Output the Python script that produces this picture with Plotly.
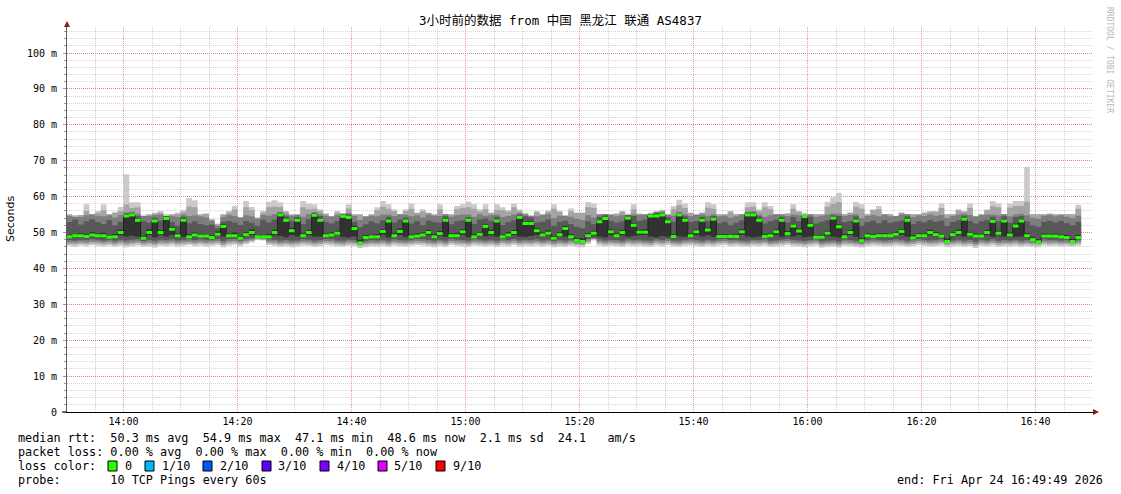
import numpy as np
import pandas as pd
import plotly.graph_objects as go

# ---------------- data ----------------
title_text = "3小时前的数据 from 中国 黑龙江 联通 AS4837"
first_bin = "2026-04-24 13:50:00"
view_start = "2026-04-24 13:50:05"
view_end = "2026-04-24 16:50:05"

median = [
    48.8, 49.1, 49.1, 48.9, 49.3, 49.1, 49.1, 48.7, 48.8, 50.0,
    54.6, 54.9, 53.4, 48.4, 50.0, 53.2, 50.0, 53.9, 50.9, 49.1,
    53.4, 48.8, 49.3, 49.0, 49.0, 48.6, 49.5, 51.7, 49.1, 49.1,
    48.4, 49.4, 50.0, 48.8, 48.8, 48.8, 50.0, 54.9, 53.4, 50.5,
    53.4, 49.1, 50.0, 54.8, 53.4, 49.1, 49.3, 49.8, 54.5, 54.2,
    51.1, 47.1, 48.6, 48.8, 48.8, 50.3, 53.2, 49.1, 50.3, 53.2,
    48.8, 49.0, 49.3, 50.0, 48.8, 49.7, 53.4, 49.1, 49.1, 50.2,
    53.4, 48.8, 49.5, 51.7, 50.0, 53.2, 48.8, 49.3, 50.0, 54.2,
    52.5, 52.5, 50.5, 49.3, 49.8, 48.4, 49.4, 51.1, 48.8, 47.8,
    47.5, 49.1, 49.8, 53.0, 53.9, 50.2, 49.1, 50.0, 54.0, 52.0,
    50.1, 50.1, 54.6, 54.6, 54.9, 53.0, 48.9, 54.9, 53.4, 49.1,
    50.2, 53.4, 50.7, 53.7, 48.9, 48.9, 48.9, 48.9, 50.2, 54.9,
    54.9, 53.4, 48.9, 49.1, 50.2, 53.4, 49.7, 51.8, 50.4, 54.4,
    52.0, 48.7, 48.7, 49.8, 54.0, 51.6, 48.8, 50.0, 53.2, 47.7,
    49.1, 48.9, 49.1, 49.1, 49.1, 49.5, 50.3, 53.4, 48.5, 49.1,
    49.1, 50.0, 49.4, 49.0, 47.5, 49.4, 50.0, 53.7, 49.5, 49.0,
    49.0, 50.0, 53.1, 49.8, 53.2, 49.3, 51.8, 53.2, 49.1, 48.0,
    47.4, 49.0, 49.0, 49.0, 48.8, 48.6, 47.5, 48.6]

ping_1 = [
    46.3, 46.0, 46.4, 46.2, 46.5, 46.3, 46.1, 46.4, 46.0, 46.3,
    45.9, 46.2, 46.4, 46.0, 46.1, 45.8, 46.3, 46.2, 46.4, 46.0,
    46.3, 46.5, 46.2, 46.4, 46.1, 46.3, 46.5, 45.9, 46.4, 46.6,
    46.2, 46.7, 47.2, 47.9, 47.8, 46.5, 46.3, 46.0, 46.2, 45.9,
    46.1, 46.4, 46.3, 46.0, 46.2, 46.5, 46.4, 46.1, 46.0, 46.3,
    46.2, 45.7, 45.9, 46.2, 46.1, 46.3, 46.0, 46.4, 46.2, 46.1,
    46.3, 46.5, 46.4, 46.2, 45.9, 46.3, 46.0, 46.5, 46.3, 46.2,
    46.0, 46.4, 46.3, 46.1, 46.3, 46.0, 46.4, 46.2, 46.5, 46.1,
    46.3, 46.2, 46.4, 46.1, 46.3, 45.9, 46.2, 46.0, 46.3, 46.0,
    45.9, 46.8, 47.8, 46.4, 46.1, 46.3, 46.2, 46.0, 46.4, 46.2,
    46.3, 46.1, 46.0, 46.4, 46.2, 46.5, 46.1, 46.0, 46.3, 46.4,
    46.2, 46.0, 46.3, 46.1, 46.4, 46.5, 46.2, 46.3, 46.1, 46.0,
    46.3, 46.2, 46.4, 46.0, 46.1, 46.3, 46.5, 46.2, 46.1, 45.9,
    46.2, 46.4, 45.8, 46.0, 46.1, 45.8, 46.3, 46.2, 46.0, 45.8,
    46.2, 46.4, 46.3, 46.1, 46.2, 46.4, 46.3, 46.0, 46.2, 46.5,
    46.3, 46.1, 46.2, 46.4, 45.9, 46.1, 46.3, 46.0, 46.2, 45.7,
    46.3, 46.1, 46.4, 46.0, 46.2, 46.1, 46.3, 46.0, 46.2, 46.0,
    45.9, 46.4, 46.2, 46.3, 46.1, 46.2, 46.0, 46.3]

ping_2 = [
    46.8, 46.7, 46.9, 46.8, 47.0, 46.9, 46.7, 46.9, 46.6, 46.9,
    46.5, 46.8, 47.0, 46.6, 46.8, 46.5, 46.9, 46.8, 47.0, 46.7,
    46.9, 47.0, 46.8, 47.0, 46.8, 46.9, 47.1, 46.5, 47.0, 47.1,
    46.8, 47.2, 47.6, 48.1, 48.0, 47.0, 46.9, 46.6, 46.8, 46.6,
    46.7, 47.0, 46.9, 46.6, 46.8, 47.1, 47.0, 46.7, 46.6, 46.9,
    46.8, 46.3, 46.6, 46.8, 46.7, 46.9, 46.6, 47.0, 46.8, 46.7,
    46.9, 47.1, 47.0, 46.8, 46.6, 46.9, 46.6, 47.1, 46.9, 46.8,
    46.6, 47.0, 46.9, 46.7, 46.9, 46.6, 47.0, 46.8, 47.1, 46.7,
    46.9, 46.8, 47.0, 46.7, 46.9, 46.5, 46.8, 46.6, 46.9, 46.6,
    46.5, 47.3, 48.1, 47.0, 46.7, 46.9, 46.8, 46.6, 47.0, 46.8,
    46.9, 46.7, 46.6, 47.0, 46.8, 47.1, 46.7, 46.6, 46.9, 47.0,
    46.8, 46.6, 46.9, 46.7, 47.0, 47.1, 46.8, 46.9, 46.7, 46.6,
    46.9, 46.8, 47.0, 46.6, 46.7, 46.9, 47.1, 46.8, 46.7, 46.5,
    46.8, 47.0, 46.4, 46.6, 46.7, 46.4, 46.9, 46.8, 46.6, 46.4,
    46.8, 47.0, 46.9, 46.7, 46.8, 47.0, 46.9, 46.6, 46.8, 47.1,
    46.9, 46.7, 46.8, 47.0, 46.5, 46.7, 46.9, 46.6, 46.8, 46.3,
    46.9, 46.7, 47.0, 46.6, 46.8, 46.7, 46.9, 46.6, 46.8, 46.6,
    46.5, 47.0, 46.8, 46.9, 46.7, 46.8, 46.6, 46.9]

ping_3 = [
    47.3, 47.2, 47.4, 47.3, 47.5, 47.4, 47.2, 47.4, 47.1, 47.4,
    47.1, 47.3, 47.5, 47.1, 47.3, 47.0, 47.4, 47.3, 47.5, 47.2,
    47.4, 47.5, 47.3, 47.5, 47.3, 47.4, 47.6, 47.0, 47.5, 47.6,
    47.3, 47.7, 48.0, 48.3, 48.2, 47.5, 47.4, 47.1, 47.3, 47.1,
    47.2, 47.5, 47.4, 47.1, 47.3, 47.6, 47.5, 47.2, 47.1, 47.4,
    47.3, 46.7, 47.1, 47.3, 47.2, 47.4, 47.1, 47.5, 47.3, 47.2,
    47.4, 47.6, 47.5, 47.3, 47.1, 47.4, 47.1, 47.6, 47.4, 47.3,
    47.1, 47.5, 47.4, 47.2, 47.4, 47.1, 47.5, 47.3, 47.6, 47.2,
    47.4, 47.3, 47.5, 47.2, 47.4, 47.0, 47.3, 47.1, 47.4, 47.1,
    46.9, 47.8, 48.3, 47.5, 47.2, 47.4, 47.3, 47.1, 47.5, 47.3,
    47.4, 47.2, 47.1, 47.5, 47.3, 47.6, 47.2, 47.1, 47.4, 47.5,
    47.3, 47.1, 47.4, 47.2, 47.5, 47.6, 47.3, 47.4, 47.2, 47.1,
    47.4, 47.3, 47.5, 47.1, 47.2, 47.4, 47.6, 47.3, 47.2, 47.0,
    47.3, 47.5, 46.9, 47.1, 47.2, 46.9, 47.4, 47.3, 47.1, 46.9,
    47.3, 47.5, 47.4, 47.2, 47.3, 47.5, 47.4, 47.1, 47.3, 47.6,
    47.4, 47.2, 47.3, 47.5, 47.0, 47.2, 47.4, 47.1, 47.3, 46.8,
    47.4, 47.2, 47.5, 47.1, 47.3, 47.2, 47.4, 47.1, 47.3, 47.1,
    47.0, 47.5, 47.3, 47.4, 47.2, 47.3, 47.1, 47.4]

ping_4 = [
    47.9, 47.8, 48.0, 47.9, 48.1, 48.0, 47.8, 48.0, 47.7, 48.0,
    47.8, 48.0, 48.1, 47.6, 47.9, 47.7, 48.0, 47.9, 48.1, 47.8,
    48.0, 48.1, 47.9, 48.1, 47.9, 48.0, 48.2, 47.6, 48.1, 48.2,
    47.8, 48.2, 48.4, 48.5, 48.4, 48.1, 48.0, 47.7, 47.9, 47.7,
    47.8, 48.1, 48.0, 47.7, 47.9, 48.2, 48.1, 47.8, 47.7, 48.0,
    47.9, 46.9, 47.6, 47.9, 47.8, 48.0, 47.7, 48.1, 47.9, 47.8,
    48.0, 48.2, 48.1, 47.9, 47.7, 48.0, 47.7, 48.2, 48.0, 47.9,
    47.7, 48.1, 48.0, 47.8, 48.0, 47.7, 48.1, 47.9, 48.2, 47.8,
    48.0, 47.9, 48.1, 47.8, 48.0, 47.6, 47.9, 47.7, 48.0, 47.4,
    47.2, 48.2, 48.5, 48.1, 47.8, 48.0, 47.9, 47.7, 48.1, 47.9,
    48.0, 47.8, 47.7, 48.1, 47.9, 48.2, 47.8, 47.7, 48.0, 48.1,
    47.9, 47.7, 48.0, 47.8, 48.1, 48.2, 47.9, 48.0, 47.8, 47.7,
    48.0, 47.9, 48.1, 47.7, 47.8, 48.0, 48.2, 47.9, 47.8, 47.6,
    47.9, 48.1, 47.5, 47.7, 47.8, 47.5, 48.0, 47.9, 47.7, 47.3,
    47.9, 48.1, 48.0, 47.8, 47.9, 48.1, 48.0, 47.7, 47.9, 48.2,
    48.0, 47.8, 47.9, 48.1, 47.2, 47.8, 48.0, 47.7, 47.9, 47.4,
    48.0, 47.8, 48.1, 47.7, 47.9, 47.8, 48.0, 47.7, 47.9, 47.6,
    47.1, 48.1, 47.9, 48.0, 47.8, 47.9, 47.2, 48.0]

ping_5 = [
    48.5, 48.7, 48.8, 48.6, 48.9, 48.8, 48.7, 48.4, 48.4, 49.2,
    48.9, 49.1, 48.8, 48.1, 49.3, 48.7, 49.4, 48.9, 49.3, 48.7,
    48.8, 48.5, 48.9, 48.7, 48.6, 48.3, 49.0, 48.9, 48.8, 48.7,
    48.1, 49.0, 49.3, 48.6, 48.6, 48.5, 49.2, 49.0, 48.7, 49.2,
    48.9, 48.7, 49.3, 48.8, 48.9, 48.8, 48.9, 49.3, 48.8, 48.6,
    48.9, 47.0, 48.2, 48.5, 48.4, 49.4, 48.7, 48.8, 49.3, 48.8,
    48.5, 48.7, 48.9, 49.3, 48.4, 49.1, 48.8, 48.8, 48.7, 49.4,
    48.7, 48.5, 49.0, 48.9, 49.2, 48.8, 48.5, 48.9, 49.3, 48.9,
    48.8, 49.0, 49.3, 48.9, 49.2, 48.0, 49.0, 48.8, 48.5, 47.5,
    47.3, 48.7, 49.2, 48.9, 48.7, 49.3, 48.8, 49.2, 48.8, 49.0,
    49.3, 49.4, 48.9, 48.7, 49.0, 48.8, 48.6, 48.9, 48.8, 48.8,
    49.3, 48.9, 49.2, 48.8, 48.6, 48.5, 48.6, 48.5, 49.4, 48.9,
    48.7, 48.9, 48.6, 48.7, 49.3, 48.8, 49.2, 48.9, 49.3, 48.7,
    48.9, 48.4, 48.3, 49.1, 48.8, 48.6, 48.5, 49.3, 48.8, 47.4,
    48.7, 48.6, 48.8, 48.7, 48.8, 49.0, 49.4, 48.8, 48.2, 48.7,
    48.8, 49.3, 48.9, 48.7, 47.3, 48.9, 49.2, 48.8, 49.0, 48.6,
    48.7, 49.3, 48.8, 49.2, 48.9, 48.9, 48.8, 48.9, 48.7, 47.7,
    47.2, 48.7, 48.6, 48.7, 48.5, 48.3, 47.3, 48.3]

ping_6 = [
    49.4, 49.6, 49.8, 49.5, 50.1, 49.7, 49.9, 49.2, 49.6, 50.8,
    55.0, 55.2, 53.9, 49.0, 50.9, 53.6, 50.7, 54.3, 51.6, 49.8,
    53.9, 49.5, 50.0, 49.6, 49.5, 49.2, 50.3, 52.4, 49.7, 50.0,
    49.1, 50.1, 50.9, 49.3, 49.4, 49.6, 50.8, 55.3, 53.8, 51.3,
    53.9, 49.8, 50.6, 55.2, 53.9, 49.7, 50.0, 50.5, 54.9, 54.6,
    51.9, 48.0, 49.3, 49.4, 49.6, 51.0, 53.7, 49.8, 51.1, 53.6,
    49.4, 49.7, 50.0, 50.7, 49.5, 50.4, 53.9, 49.7, 49.9, 50.9,
    53.8, 49.5, 50.2, 52.3, 50.8, 53.7, 49.4, 50.1, 50.7, 54.6,
    53.0, 53.1, 51.2, 50.0, 50.6, 49.1, 50.1, 51.8, 49.5, 48.5,
    48.3, 49.8, 50.5, 53.5, 54.3, 50.9, 49.8, 50.7, 54.4, 52.6,
    50.8, 50.9, 55.0, 55.0, 55.3, 53.5, 49.6, 55.2, 53.9, 49.8,
    50.9, 53.9, 51.4, 54.1, 49.5, 49.6, 49.4, 49.6, 51.0, 55.2,
    55.3, 53.8, 49.6, 49.7, 50.9, 53.9, 50.4, 52.4, 51.1, 54.8,
    52.6, 49.3, 49.4, 50.5, 54.4, 52.3, 49.5, 50.7, 53.7, 48.4,
    49.8, 49.5, 49.7, 49.8, 49.6, 50.2, 51.0, 53.9, 49.2, 49.8,
    49.7, 50.8, 50.1, 49.6, 48.3, 50.0, 50.8, 54.1, 50.2, 49.7,
    49.6, 50.7, 53.6, 50.5, 53.7, 50.0, 52.5, 53.7, 49.8, 48.7,
    48.1, 49.7, 49.6, 49.7, 49.4, 49.3, 48.2, 49.3]

ping_7 = [
    52.9, 53.6, 52.2, 53.1, 53.7, 52.9, 52.4, 53.4, 52.0, 53.0,
    55.3, 55.5, 54.6, 53.1, 52.7, 54.1, 53.3, 54.7, 52.9, 51.9,
    54.4, 52.6, 53.1, 52.4, 52.0, 52.2, 51.2, 53.0, 53.2, 52.8,
    52.1, 53.2, 52.7, 51.9, 53.5, 52.8, 53.6, 55.5, 54.5, 53.1,
    54.3, 52.3, 53.7, 55.4, 54.6, 52.9, 52.5, 53.2, 55.2, 55.0,
    53.0, 51.5, 52.3, 53.1, 52.6, 53.4, 54.4, 52.8, 53.6, 54.2,
    52.5, 53.2, 52.0, 53.3, 52.9, 52.7, 54.5, 52.3, 53.1, 53.4,
    54.3, 52.4, 53.6, 53.9, 53.2, 54.4, 52.1, 52.9, 53.4, 55.0,
    54.5, 54.2, 52.8, 53.0, 53.6, 51.9, 52.9, 53.3, 52.4, 51.6,
    51.2, 53.1, 52.3, 54.4, 54.8, 53.3, 52.7, 53.1, 54.9, 54.6,
    53.3, 53.6, 55.3, 55.4, 55.5, 54.3, 53.0, 55.5, 54.5, 52.9,
    53.2, 54.4, 53.1, 54.6, 52.6, 53.0, 52.0, 52.7, 53.4, 55.5,
    55.6, 54.6, 52.5, 53.1, 53.6, 54.4, 52.8, 54.3, 53.1, 55.1,
    54.4, 52.5, 53.0, 53.4, 54.8, 54.6, 52.9, 53.2, 54.5, 51.9,
    52.9, 53.3, 52.6, 53.4, 52.7, 53.0, 53.3, 54.5, 52.3, 53.1,
    52.8, 53.5, 53.0, 53.3, 51.8, 52.9, 53.4, 54.7, 53.2, 52.5,
    53.1, 53.4, 54.4, 53.1, 54.5, 52.7, 54.3, 54.6, 53.1, 52.0,
    51.5, 53.0, 53.3, 52.8, 53.2, 52.6, 52.0, 53.0]

ping_8 = [
    54.6, 54.9, 54.3, 54.8, 55.0, 54.7, 54.5, 54.8, 54.2, 54.9,
    55.6, 55.8, 55.2, 54.8, 54.6, 54.9, 55.0, 55.1, 54.7, 54.3,
    55.0, 54.6, 54.8, 54.5, 54.2, 53.3, 51.9, 54.3, 54.9, 54.6,
    54.2, 54.8, 54.5, 53.8, 54.9, 54.7, 55.1, 55.8, 55.0, 54.7,
    54.9, 54.4, 55.1, 55.7, 55.1, 54.7, 54.4, 54.9, 55.5, 55.4,
    54.6, 53.5, 54.4, 54.7, 54.5, 55.0, 55.0, 54.6, 55.1, 54.9,
    54.5, 54.8, 54.2, 55.0, 54.7, 54.6, 55.1, 54.4, 54.8, 55.0,
    55.0, 54.4, 55.1, 54.7, 54.9, 55.0, 54.3, 54.6, 55.0, 55.4,
    55.0, 54.9, 54.5, 54.8, 55.1, 54.0, 54.7, 54.9, 54.4, 53.8,
    53.5, 54.8, 54.2, 55.0, 55.2, 54.9, 54.5, 54.8, 55.3, 55.1,
    54.9, 55.0, 55.6, 55.7, 55.8, 54.9, 54.7, 55.8, 55.1, 54.6,
    54.9, 55.0, 54.7, 55.1, 54.5, 54.7, 54.1, 54.5, 55.0, 55.8,
    55.9, 55.1, 54.4, 54.8, 55.1, 55.0, 54.6, 55.0, 54.8, 55.5,
    55.0, 54.4, 54.7, 55.0, 55.3, 55.2, 54.6, 54.9, 55.1, 54.0,
    54.6, 54.9, 54.5, 55.0, 54.5, 54.7, 55.0, 55.1, 54.3, 54.8,
    54.6, 55.0, 54.7, 54.9, 54.0, 54.6, 55.0, 55.2, 54.9, 54.4,
    54.8, 55.0, 55.0, 54.8, 55.1, 54.5, 55.0, 55.2, 54.8, 54.1,
    53.8, 54.7, 54.9, 54.5, 54.8, 54.4, 54.0, 54.7]

ping_9 = [
    55.0, 54.4, 54.9, 56.0, 55.1, 55.5, 56.2, 55.1, 55.4, 56.0,
    57.8, 56.8, 57.0, 54.6, 55.0, 55.3, 55.5, 54.6, 55.0, 55.2,
    55.8, 57.2, 57.0, 55.0, 55.2, 53.6, 52.3, 55.0, 55.6, 56.4,
    54.2, 57.0, 56.2, 54.1, 55.6, 57.0, 57.2, 57.1, 55.8, 55.0,
    55.1, 57.0, 56.5, 56.6, 56.0, 55.2, 54.6, 55.6, 55.1, 56.7,
    55.0, 55.0, 54.6, 55.0, 56.2, 57.2, 56.6, 56.0, 55.1, 56.0,
    56.6, 55.4, 55.9, 55.4, 55.0, 56.5, 55.1, 55.0, 56.5, 56.8,
    57.0, 56.6, 55.9, 56.5, 55.4, 56.3, 56.2, 55.8, 57.0, 56.0,
    55.3, 54.6, 55.7, 55.1, 55.8, 56.6, 55.8, 54.6, 55.9, 55.4,
    55.4, 57.0, 56.8, 55.1, 55.1, 55.1, 55.2, 55.8, 54.9, 56.5,
    55.2, 55.1, 55.1, 55.8, 56.1, 55.1, 56.5, 57.6, 56.8, 55.4,
    55.1, 55.5, 56.9, 56.6, 55.1, 55.1, 55.8, 55.1, 55.1, 57.0,
    57.2, 56.0, 57.0, 56.5, 55.1, 55.1, 55.3, 56.6, 55.8, 54.6,
    55.1, 55.1, 55.1, 57.2, 58.0, 58.5, 55.1, 55.5, 57.2, 56.6,
    55.1, 56.2, 56.5, 55.1, 55.1, 54.6, 55.5, 55.1, 55.1, 55.1,
    55.5, 55.8, 55.8, 56.8, 55.1, 55.1, 56.2, 55.8, 56.8, 54.6,
    55.1, 56.2, 57.3, 57.0, 55.1, 56.9, 57.4, 57.4, 58.6, 55.1,
    55.1, 55.1, 55.2, 55.1, 55.1, 55.1, 55.1, 56.6]

ping_10 = [
    55.1, 54.4, 54.9, 57.9, 55.1, 56.0, 57.9, 55.1, 55.8, 57.1,
    66.2, 58.4, 58.4, 54.6, 55.1, 55.6, 56.0, 54.6, 55.1, 55.6,
    56.3, 59.6, 59.0, 55.1, 55.3, 53.7, 52.5, 55.1, 56.0, 57.4,
    54.2, 58.8, 57.1, 54.2, 56.0, 58.6, 59.0, 58.4, 56.0, 55.1,
    55.1, 58.8, 58.1, 57.9, 56.5, 55.3, 54.6, 56.0, 55.1, 57.9,
    55.1, 55.1, 54.6, 55.1, 57.0, 58.8, 57.9, 56.5, 55.1, 56.5,
    58.1, 55.6, 56.5, 55.6, 55.1, 57.9, 55.1, 55.1, 57.4, 57.9,
    58.6, 57.9, 56.5, 57.9, 55.6, 57.9, 57.0, 56.3, 58.1, 56.5,
    55.3, 54.6, 56.0, 55.1, 56.2, 57.9, 56.0, 54.6, 56.7, 55.6,
    55.6, 58.5, 58.1, 55.1, 55.1, 55.1, 55.3, 56.0, 54.9, 57.9,
    55.3, 55.1, 55.1, 56.0, 56.3, 55.1, 57.4, 59.1, 58.1, 55.6,
    55.1, 55.6, 58.4, 57.9, 55.1, 55.1, 56.0, 55.1, 55.1, 58.4,
    58.4, 56.5, 58.4, 57.4, 55.1, 55.1, 55.3, 57.9, 56.0, 54.6,
    55.1, 55.1, 55.1, 58.6, 59.8, 61.1, 55.1, 55.6, 58.5, 57.9,
    55.1, 56.5, 57.4, 55.1, 55.1, 54.6, 55.6, 55.1, 55.1, 55.1,
    55.6, 56.0, 56.0, 58.1, 55.1, 55.1, 56.5, 56.0, 58.1, 54.6,
    55.1, 56.5, 58.8, 58.1, 55.1, 58.1, 58.8, 58.8, 68.3, 55.1,
    55.1, 55.1, 55.3, 55.1, 55.1, 55.1, 55.1, 57.7]

y_tick_values = [0, 10, 20, 30, 40, 50, 60, 70, 80, 90, 100]
y_tick_labels = ["0", "10 m", "20 m", "30 m", "40 m", "50 m",
                 "60 m", "70 m", "80 m", "90 m", "100 m"]

stats_line = "median rtt:  50.3 ms avg  54.9 ms max  47.1 ms min  48.6 ms now  2.1 ms sd  24.1   am/s"
loss_line = "packet loss: 0.00 % avg  0.00 % max  0.00 % min  0.00 % now"
loss_color_label = "loss color:"
loss_labels = ["0", "1/10", "2/10", "3/10", "4/10", "5/10", "9/10"]
loss_colors = ["#26ff00", "#00b8ff", "#0059ff", "#5e00ff", "#7e00ff", "#dd00ff", "#ff0000"]
probe_line = "probe:       10 TCP Pings every 60s"
end_line = "end: Fri Apr 24 16:49:49 2026"
watermark = "RRDTOOL / TOBI OETIKER"

# ---------------- styles ----------------
smoke_colors = ["#cacaca", "#a4a4a4", "#7e7e7e", "#585858", "#323232"]
MONO = "DejaVu Sans Mono, Noto Sans CJK SC, monospace"

for arr in [ping_1, ping_2, ping_3, ping_4, ping_5, ping_6, ping_7, ping_8, ping_9, ping_10]:
    assert len(arr) == len(median), len(arr)

n = len(median)
edges = pd.date_range(first_bin, periods=n + 1, freq="min")
pings = np.sort(np.array([ping_1, ping_2, ping_3, ping_4, ping_5,
                          ping_6, ping_7, ping_8, ping_9, ping_10]), axis=0)


def ext(v):
    v = list(v)
    return v + [v[-1]]


fig = go.Figure()
for i in range(5):
    lo = pings[i]
    hi = pings[9 - i]
    fig.add_trace(go.Scatter(x=edges, y=ext(lo), mode="lines",
                             line=dict(width=0, shape="hv"),
                             hoverinfo="skip", showlegend=False))
    fig.add_trace(go.Scatter(x=edges, y=ext(hi), mode="lines",
                             line=dict(width=0, shape="hv"),
                             fill="tonexty", fillcolor=smoke_colors[i],
                             hoverinfo="skip", showlegend=False))

# dark median line
fig.add_trace(go.Scatter(x=edges, y=ext(median), mode="lines",
                         line=dict(color="#202020", width=1, shape="hv"),
                         hoverinfo="skip", showlegend=False))

# loss-coloured median segments
gx, gy = [], []
for k in range(n):
    gx += [edges[k], edges[k + 1], None]
    gy += [median[k], median[k], None]
fig.add_trace(go.Scatter(x=gx, y=gy, mode="lines",
                         line=dict(color=loss_colors[0], width=3),
                         hoverinfo="skip", showlegend=False))

# ---------------- layout ----------------
W, H = 1121, 494
PLOT_L, PLOT_R, PLOT_T, PLOT_B = 67, 1093, 27, 412      # page pixels
L, R = PLOT_L, W - PLOT_R
T, B = PLOT_T, H - PLOT_B
PW, PH = PLOT_R - PLOT_L, PLOT_B - PLOT_T
px_per_ms = 3.59
y_top = PH / px_per_ms


def pxx(x):
    return (x - PLOT_L) / PW


def pxy(y):
    return (PLOT_B - y) / PH


minor_grid = "rgba(160,160,160,0.45)"
major_grid = "rgba(225,70,70,0.55)"

fig.update_layout(
    width=W, height=H,
    margin=dict(l=L, r=R, t=T, b=B, pad=0, autoexpand=False),
    paper_bgcolor="white", plot_bgcolor="white",
    showlegend=False,
    title=dict(text=title_text, x=0.5, xanchor="center", xref="container",
               y=1 - 21 / H, yanchor="middle", yref="container",
               font=dict(family=MONO, size=12.5, color="black")),
    font=dict(family=MONO, size=10, color="black"),
)

fig.update_xaxes(
    type="date", range=[view_start, view_end],
    tick0="2026-04-24 14:00:00", dtick=20 * 60 * 1000, tickformat="%H:%M",
    showgrid=True, gridcolor=major_grid, griddash="1px,1px", gridwidth=1,
    minor=dict(dtick=5 * 60 * 1000, tick0="2026-04-24 14:00:00", showgrid=True,
               gridcolor=minor_grid, griddash="1px,1px", gridwidth=1, ticks=""),
    showline=True, linecolor="black", linewidth=1,
    ticks="", tickfont=dict(family=MONO, size=10, color="black"),
    zeroline=False, fixedrange=True,
)
fig.update_yaxes(
    range=[0, y_top],
    tickmode="array", tickvals=y_tick_values, ticktext=y_tick_labels,
    showgrid=True, gridcolor=major_grid, griddash="1px,1px", gridwidth=1,
    minor=dict(dtick=2, tick0=0, showgrid=True, gridcolor=minor_grid,
               griddash="1px,1px", gridwidth=1, ticks="outside", ticklen=2,
               tickcolor="#999999"),
    ticks="outside", ticklen=3, tickcolor="#999999",
    showline=True, linecolor="#606060", linewidth=1,
    tickfont=dict(family=MONO, size=10, color="black"),
    ticklabelstandoff=4,
    zeroline=False, fixedrange=True,
)

annotations = []
annotations.append(dict(text="Seconds", x=pxx(10), y=pxy(219), xref="paper", yref="paper",
                        showarrow=False, textangle=-90, xanchor="center", yanchor="middle",
                        font=dict(family="DejaVu Sans", size=11, color="black")))
annotations.append(dict(text=watermark, x=pxx(1110), y=pxy(60), xref="paper", yref="paper",
                        showarrow=False, textangle=90, xanchor="center", yanchor="middle",
                        font=dict(family=MONO, size=8, color="#b8b8b8")))


def nb(s):
    return s.replace(" ", "\u00a0")


legend_font = dict(family=MONO, size=11.8, color="black")
for text, ypix in [(stats_line, 438), (loss_line, 452), (loss_color_label, 466), (probe_line, 480)]:
    annotations.append(dict(text=nb(text), x=pxx(16), y=pxy(ypix), xref="paper", yref="paper",
                            showarrow=False, xanchor="left", yanchor="middle", align="left",
                            font=legend_font))
annotations.append(dict(text=nb(end_line), x=pxx(1105), y=pxy(480), xref="paper", yref="paper",
                        showarrow=False, xanchor="right", yanchor="middle", align="right",
                        font=legend_font))

square_x = [108, 145, 203, 262, 320, 378, 436]
label_x = [123, 160, 218, 276, 335, 392, 451]
shapes = []
for sx, lx, lab, col in zip(square_x, label_x, loss_labels, loss_colors):
    shapes.append(dict(type="rect", xref="paper", yref="paper",
                       x0=pxx(sx), x1=pxx(sx + 9), y0=pxy(471), y1=pxy(461),
                       fillcolor=col, line=dict(color="black", width=1)))
    annotations.append(dict(text=nb(lab), x=pxx(lx), y=pxy(466), xref="paper", yref="paper",
                            showarrow=False, xanchor="left", yanchor="middle", align="left",
                            font=legend_font))

# axis arrows
shapes.append(dict(type="path", xref="paper", yref="paper",
                   path=f"M {pxx(64)} {pxy(27)} L {pxx(70)} {pxy(27)} L {pxx(67)} {pxy(21)} Z",
                   fillcolor="#8b1a1a", line=dict(width=0)))
shapes.append(dict(type="path", xref="paper", yref="paper",
                   path=f"M {pxx(1093)} {pxy(409)} L {pxx(1093)} {pxy(415)} L {pxx(1099)} {pxy(412)} Z",
                   fillcolor="#8b1a1a", line=dict(width=0)))
shapes.append(dict(type="line", xref="paper", yref="paper",
                   x0=pxx(62), x1=pxx(67), y0=0, y1=0, line=dict(color="black", width=1)))

fig.update_layout(annotations=annotations, shapes=shapes)

# remove the browser's default 8px body margin so the figure sits at the page origin
fig.write_html("out.html", config={"displayModeBar": False},
               post_script="document.body.style.margin='0px';")
